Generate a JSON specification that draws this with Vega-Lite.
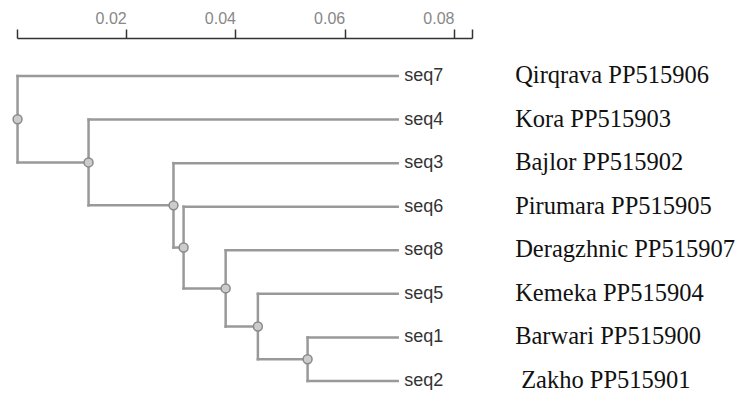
{
  "$schema": "https://vega.github.io/schema/vega-lite/v6.json",
  "width": 455,
  "height": 356,
  "autosize": {"type": "none"},
  "padding": {"left": 17, "top": 38, "right": 266, "bottom": 0},
  "background": "white",
  "config": {"view": {"stroke": null}},
  "datasets": {
    "edges": [
      {"x": 0.0001, "x2": 0.0001, "y": 0, "y2": 1.984},
      {"x": 0.0001, "x2": 0.0697, "y": 0, "y2": 0},
      {"x": 0.0001, "x2": 0.0131, "y": 1.984, "y2": 1.984},
      {"x": 0.0131, "x2": 0.0131, "y": 1, "y2": 2.969},
      {"x": 0.0131, "x2": 0.0697, "y": 1, "y2": 1},
      {"x": 0.0131, "x2": 0.02865, "y": 2.969, "y2": 2.969},
      {"x": 0.02865, "x2": 0.02865, "y": 2, "y2": 3.9375},
      {"x": 0.02865, "x2": 0.0697, "y": 2, "y2": 2},
      {"x": 0.02865, "x2": 0.0305, "y": 3.9375, "y2": 3.9375},
      {"x": 0.0305, "x2": 0.0305, "y": 3, "y2": 4.875},
      {"x": 0.0305, "x2": 0.0697, "y": 3, "y2": 3},
      {"x": 0.0305, "x2": 0.0382, "y": 4.875, "y2": 4.875},
      {"x": 0.0382, "x2": 0.0382, "y": 4, "y2": 5.75},
      {"x": 0.0382, "x2": 0.0697, "y": 4, "y2": 4},
      {"x": 0.0382, "x2": 0.0441, "y": 5.75, "y2": 5.75},
      {"x": 0.0441, "x2": 0.0441, "y": 5, "y2": 6.5},
      {"x": 0.0441, "x2": 0.0697, "y": 5, "y2": 5},
      {"x": 0.0441, "x2": 0.0532, "y": 6.5, "y2": 6.5},
      {"x": 0.0532, "x2": 0.0532, "y": 6, "y2": 7},
      {"x": 0.0532, "x2": 0.0697, "y": 6, "y2": 6},
      {"x": 0.0532, "x2": 0.0697, "y": 7, "y2": 7}
    ],
    "nodes": [
      {"x": 0.0001, "y": 0.992},
      {"x": 0.0131, "y": 1.984},
      {"x": 0.02865, "y": 2.969},
      {"x": 0.0305, "y": 3.9375},
      {"x": 0.0382, "y": 4.875},
      {"x": 0.0441, "y": 5.75},
      {"x": 0.0532, "y": 6.5}
    ],
    "leaves": [
      {"seq": "seq7", "label": "Qirqrava PP515906", "y": 0, "x": 0.0697},
      {"seq": "seq4", "label": "Kora PP515903", "y": 1, "x": 0.0697},
      {"seq": "seq3", "label": "Bajlor PP515902", "y": 2, "x": 0.0697},
      {"seq": "seq6", "label": "Pirumara PP515905", "y": 3, "x": 0.0697},
      {"seq": "seq8", "label": "Deragzhnic PP515907", "y": 4, "x": 0.0697},
      {"seq": "seq5", "label": "Kemeka PP515904", "y": 5, "x": 0.0697},
      {"seq": "seq1", "label": "Barwari PP515900", "y": 6, "x": 0.0697},
      {"seq": "seq2", "label": "Zakho PP515901", "y": 7, "x": 0.0697}
    ]
  },
  "layer": [
    {
      "data": {"name": "edges"},
      "mark": {"type": "rule", "color": "#999999", "strokeWidth": 2.5, "strokeCap": "square"},
      "encoding": {
        "x": {
          "field": "x", "type": "quantitative",
          "scale": {"domain": [0, 0.0833], "nice": false, "zero": false},
          "axis": {
            "orient": "top",
            "title": null,
            "grid": false,
            "values": [0, 0.02, 0.04, 0.06, 0.08, 0.0833],
            "labelExpr": "datum.value < 0.001 || datum.value > 0.081 ? '' : format(datum.value, '.2f')",
            "labelAlign": "right",
            "labelFont": "Liberation Sans",
            "labelFontSize": 16,
            "labelColor": "#888888",
            "labelPadding": 3,
            "tickSize": 9,
            "tickWidth": 1.5,
            "tickColor": "#333333",
            "domainColor": "#333333",
            "domainWidth": 1.5
          }
        },
        "x2": {"field": "x2"},
        "y": {
          "field": "y", "type": "quantitative",
          "scale": {"domain": [-0.872, 7.299], "nice": false, "zero": false, "reverse": true},
          "axis": null
        },
        "y2": {"field": "y2"}
      }
    },
    {
      "data": {"name": "nodes"},
      "mark": {"type": "point", "filled": true, "fill": "#cccccc", "stroke": "#8a8a8a", "strokeWidth": 1.5, "size": 80, "opacity": 1},
      "encoding": {
        "x": {"field": "x", "type": "quantitative"},
        "y": {"field": "y", "type": "quantitative"}
      }
    },
    {
      "data": {"name": "leaves"},
      "mark": {"type": "text", "align": "left", "baseline": "middle", "dx": 6.5, "font": "Liberation Sans", "fontSize": 18, "color": "#333333"},
      "encoding": {
        "x": {"field": "x", "type": "quantitative"},
        "y": {"field": "y", "type": "quantitative"},
        "text": {"field": "seq"}
      }
    },
    {
      "data": {"name": "leaves"},
      "transform": [{"filter": "datum.seq != 'seq2'"}],
      "mark": {"type": "text", "align": "left", "baseline": "middle", "font": "Liberation Serif", "fontSize": 24.5, "color": "#111111"},
      "encoding": {
        "x": {"datum": 0.0912, "type": "quantitative"},
        "y": {"field": "y", "type": "quantitative"},
        "text": {"field": "label"}
      }
    },
    {
      "data": {"name": "leaves"},
      "transform": [{"filter": "datum.seq == 'seq2'"}],
      "mark": {"type": "text", "align": "left", "baseline": "middle", "dx": 6, "font": "Liberation Serif", "fontSize": 24.5, "color": "#111111"},
      "encoding": {
        "x": {"datum": 0.0912, "type": "quantitative"},
        "y": {"field": "y", "type": "quantitative"},
        "text": {"field": "label"}
      }
    }
  ]
}
